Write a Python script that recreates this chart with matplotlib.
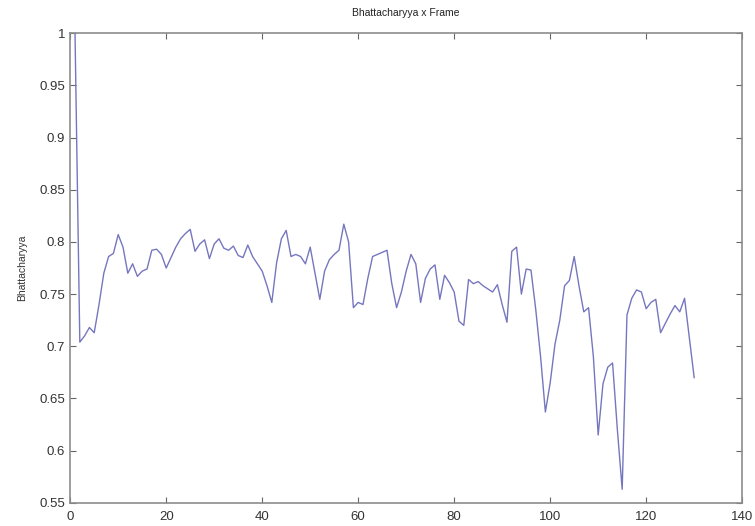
import numpy as np
import matplotlib
matplotlib.use('Agg')
import matplotlib.pyplot as plt
from matplotlib.ticker import FormatStrFormatter

### Data (one value per frame)
frames = np.arange(1, 131)
bhatt = [
    1.000, 0.704, 0.710, 0.718, 0.713, 0.740, 0.770, 0.786, 0.789, 0.807,
    0.795, 0.770, 0.779, 0.767, 0.772, 0.774, 0.792, 0.793, 0.788, 0.775,
    0.785, 0.795, 0.803, 0.808, 0.812, 0.791, 0.798, 0.802, 0.784, 0.798,
    0.803, 0.794, 0.792, 0.796, 0.787, 0.785, 0.797, 0.786, 0.779, 0.772,
    0.758, 0.742, 0.780, 0.803, 0.811, 0.786, 0.788, 0.786, 0.779, 0.795,
    0.770, 0.745, 0.772, 0.783, 0.788, 0.792, 0.817, 0.800, 0.737, 0.742,
    0.740, 0.765, 0.786, 0.788, 0.790, 0.792, 0.760, 0.737, 0.752, 0.772,
    0.788, 0.779, 0.742, 0.765, 0.774, 0.778, 0.745, 0.768, 0.761, 0.752,
    0.724, 0.720, 0.764, 0.760, 0.762, 0.758, 0.755, 0.752, 0.759, 0.740,
    0.723, 0.791, 0.795, 0.750, 0.774, 0.773, 0.735, 0.690, 0.637, 0.665,
    0.702, 0.725, 0.758, 0.763, 0.786, 0.758, 0.733, 0.737, 0.690, 0.615,
    0.664, 0.680, 0.684, 0.620, 0.563, 0.730, 0.746, 0.754, 0.752, 0.736,
    0.742, 0.745, 0.713, 0.722, 0.731, 0.739, 0.733, 0.746, 0.708, 0.670,
]
xticks = [0, 20, 40, 60, 80, 100, 120, 140]
yticks = [0.55, 0.6, 0.65, 0.7, 0.75, 0.8, 0.85, 0.9, 0.95, 1.0]

plt.rcParams['font.family'] = ['Liberation Sans', 'DejaVu Sans']

fig = plt.figure(figsize=(7.55, 5.26), dpi=100)
ax = fig.add_axes([0.093, 0.044, 0.89, 0.893])

ax.plot(frames, bhatt, color='#7676bf', linewidth=1.0)

ax.set_xlim(0, 140)
ax.set_ylim(0.55, 1.0)
ax.set_xticks(xticks)
ax.set_yticks(yticks)
ax.yaxis.set_major_formatter(FormatStrFormatter('%g'))
ax.tick_params(direction='in', top=True, right=True, length=4,
               colors='#666666', labelcolor='#333333', labelsize=9.5)
ax.tick_params(axis='x', pad=6)
for s in ax.spines.values():
    s.set_color('#8c8c8c')
    s.set_linewidth(1.2)

ax.set_title('Bhattacharyya x Frame', fontsize=7.5, color='#222222', pad=12)
ax.set_ylabel('Bhattacharyya', fontsize=7.5, color='#333333', labelpad=9)
ax.set_xlabel('Frame', fontsize=7.5, color='#333333', labelpad=2)

fig.savefig('out.png', dpi=100)
